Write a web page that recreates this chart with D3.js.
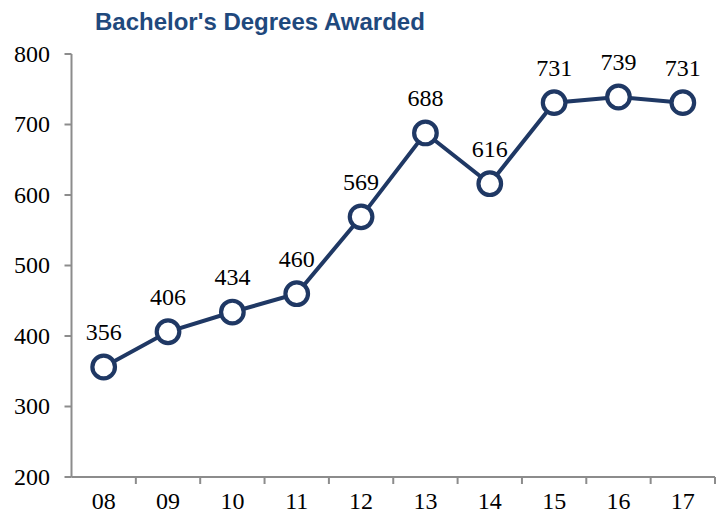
<!DOCTYPE html>
<html>
<head>
<meta charset="utf-8">
<script src="https://cdn.jsdelivr.net/npm/d3@7"></script>
<style>
  body { margin: 0; background: #fff; }
  .tick-label { font-family: "Liberation Serif", "Times New Roman", serif; font-size: 24px; fill: #000; }
  .title { font-family: "Liberation Sans", Arial, sans-serif; font-weight: bold; font-size: 24px; fill: #1f497d; }
</style>
</head>
<body>
<div id="chart"></div>
<script>
var width = 725,
    height = 519;

var years = ["08", "09", "10", "11", "12", "13", "14", "15", "16", "17"];
var degrees = [356, 406, 434, 460, 569, 688, 616, 731, 739, 731];
var yTicks = [200, 300, 400, 500, 600, 700, 800];

var navy = "#1f3864",
    axisGray = "#8c8c8c";

var svg = d3.select("#chart").append("svg")
    .attr("width", width)
    .attr("height", height);

var x = d3.scaleBand()
    .domain(years)
    .range([71.5, 715]);

var y = d3.scaleLinear()
    .domain([200, 800])
    .range([477, 54]);

svg.append("text")
    .attr("class", "title")
    .attr("x", 95)
    .attr("y", 30)
    .text("Bachelor's Degrees Awarded");

// y axis
var yAxis = svg.append("g");
yAxis.append("line")
    .attr("x1", x.range()[0]).attr("x2", x.range()[0])
    .attr("y1", y(800)).attr("y2", y(200))
    .attr("stroke", axisGray).attr("stroke-width", 2);
yAxis.selectAll(".ytick")
    .data(yTicks)
    .enter().append("line")
    .attr("x1", x.range()[0] - 7).attr("x2", x.range()[0])
    .attr("y1", function(d) { return y(d); })
    .attr("y2", function(d) { return y(d); })
    .attr("stroke", axisGray).attr("stroke-width", 2);
yAxis.selectAll(".ylab")
    .data(yTicks)
    .enter().append("text")
    .attr("class", "tick-label")
    .attr("x", 50)
    .attr("y", function(d) { return y(d); })
    .attr("dy", "0.33em")
    .attr("text-anchor", "end")
    .text(function(d) { return d; });

// x axis
var xAxis = svg.append("g");
xAxis.append("line")
    .attr("x1", x.range()[0]).attr("x2", x.range()[1])
    .attr("y1", y(200)).attr("y2", y(200))
    .attr("stroke", axisGray).attr("stroke-width", 2);
var edges = years.map(function(d) { return x(d) + x.bandwidth(); });
xAxis.selectAll(".xtick")
    .data(edges)
    .enter().append("line")
    .attr("x1", function(d) { return d; })
    .attr("x2", function(d) { return d; })
    .attr("y1", y(200)).attr("y2", y(200) + 7)
    .attr("stroke", axisGray).attr("stroke-width", 2);
xAxis.selectAll(".xlab")
    .data(years)
    .enter().append("text")
    .attr("class", "tick-label")
    .attr("x", function(d) { return x(d) + x.bandwidth() / 2; })
    .attr("y", 509)
    .attr("text-anchor", "middle")
    .text(function(d) { return d; });

var line = d3.line()
    .x(function(d, i) { return x(years[i]) + x.bandwidth() / 2; })
    .y(function(d) { return y(d); });

svg.append("path")
    .datum(degrees)
    .attr("d", line)
    .attr("fill", "none")
    .attr("stroke", navy)
    .attr("stroke-width", 4);

svg.selectAll(".pt")
    .data(degrees)
    .enter().append("circle")
    .attr("cx", function(d, i) { return x(years[i]) + x.bandwidth() / 2; })
    .attr("cy", function(d) { return y(d); })
    .attr("r", 11.3)
    .attr("fill", "#fff")
    .attr("stroke", navy)
    .attr("stroke-width", 4.2);

svg.selectAll(".val")
    .data(degrees)
    .enter().append("text")
    .attr("class", "tick-label")
    .attr("x", function(d, i) { return x(years[i]) + x.bandwidth() / 2; })
    .attr("y", function(d) { return y(d) - 27; })
    .attr("text-anchor", "middle")
    .text(function(d) { return d; });
</script>
</body>
</html>
